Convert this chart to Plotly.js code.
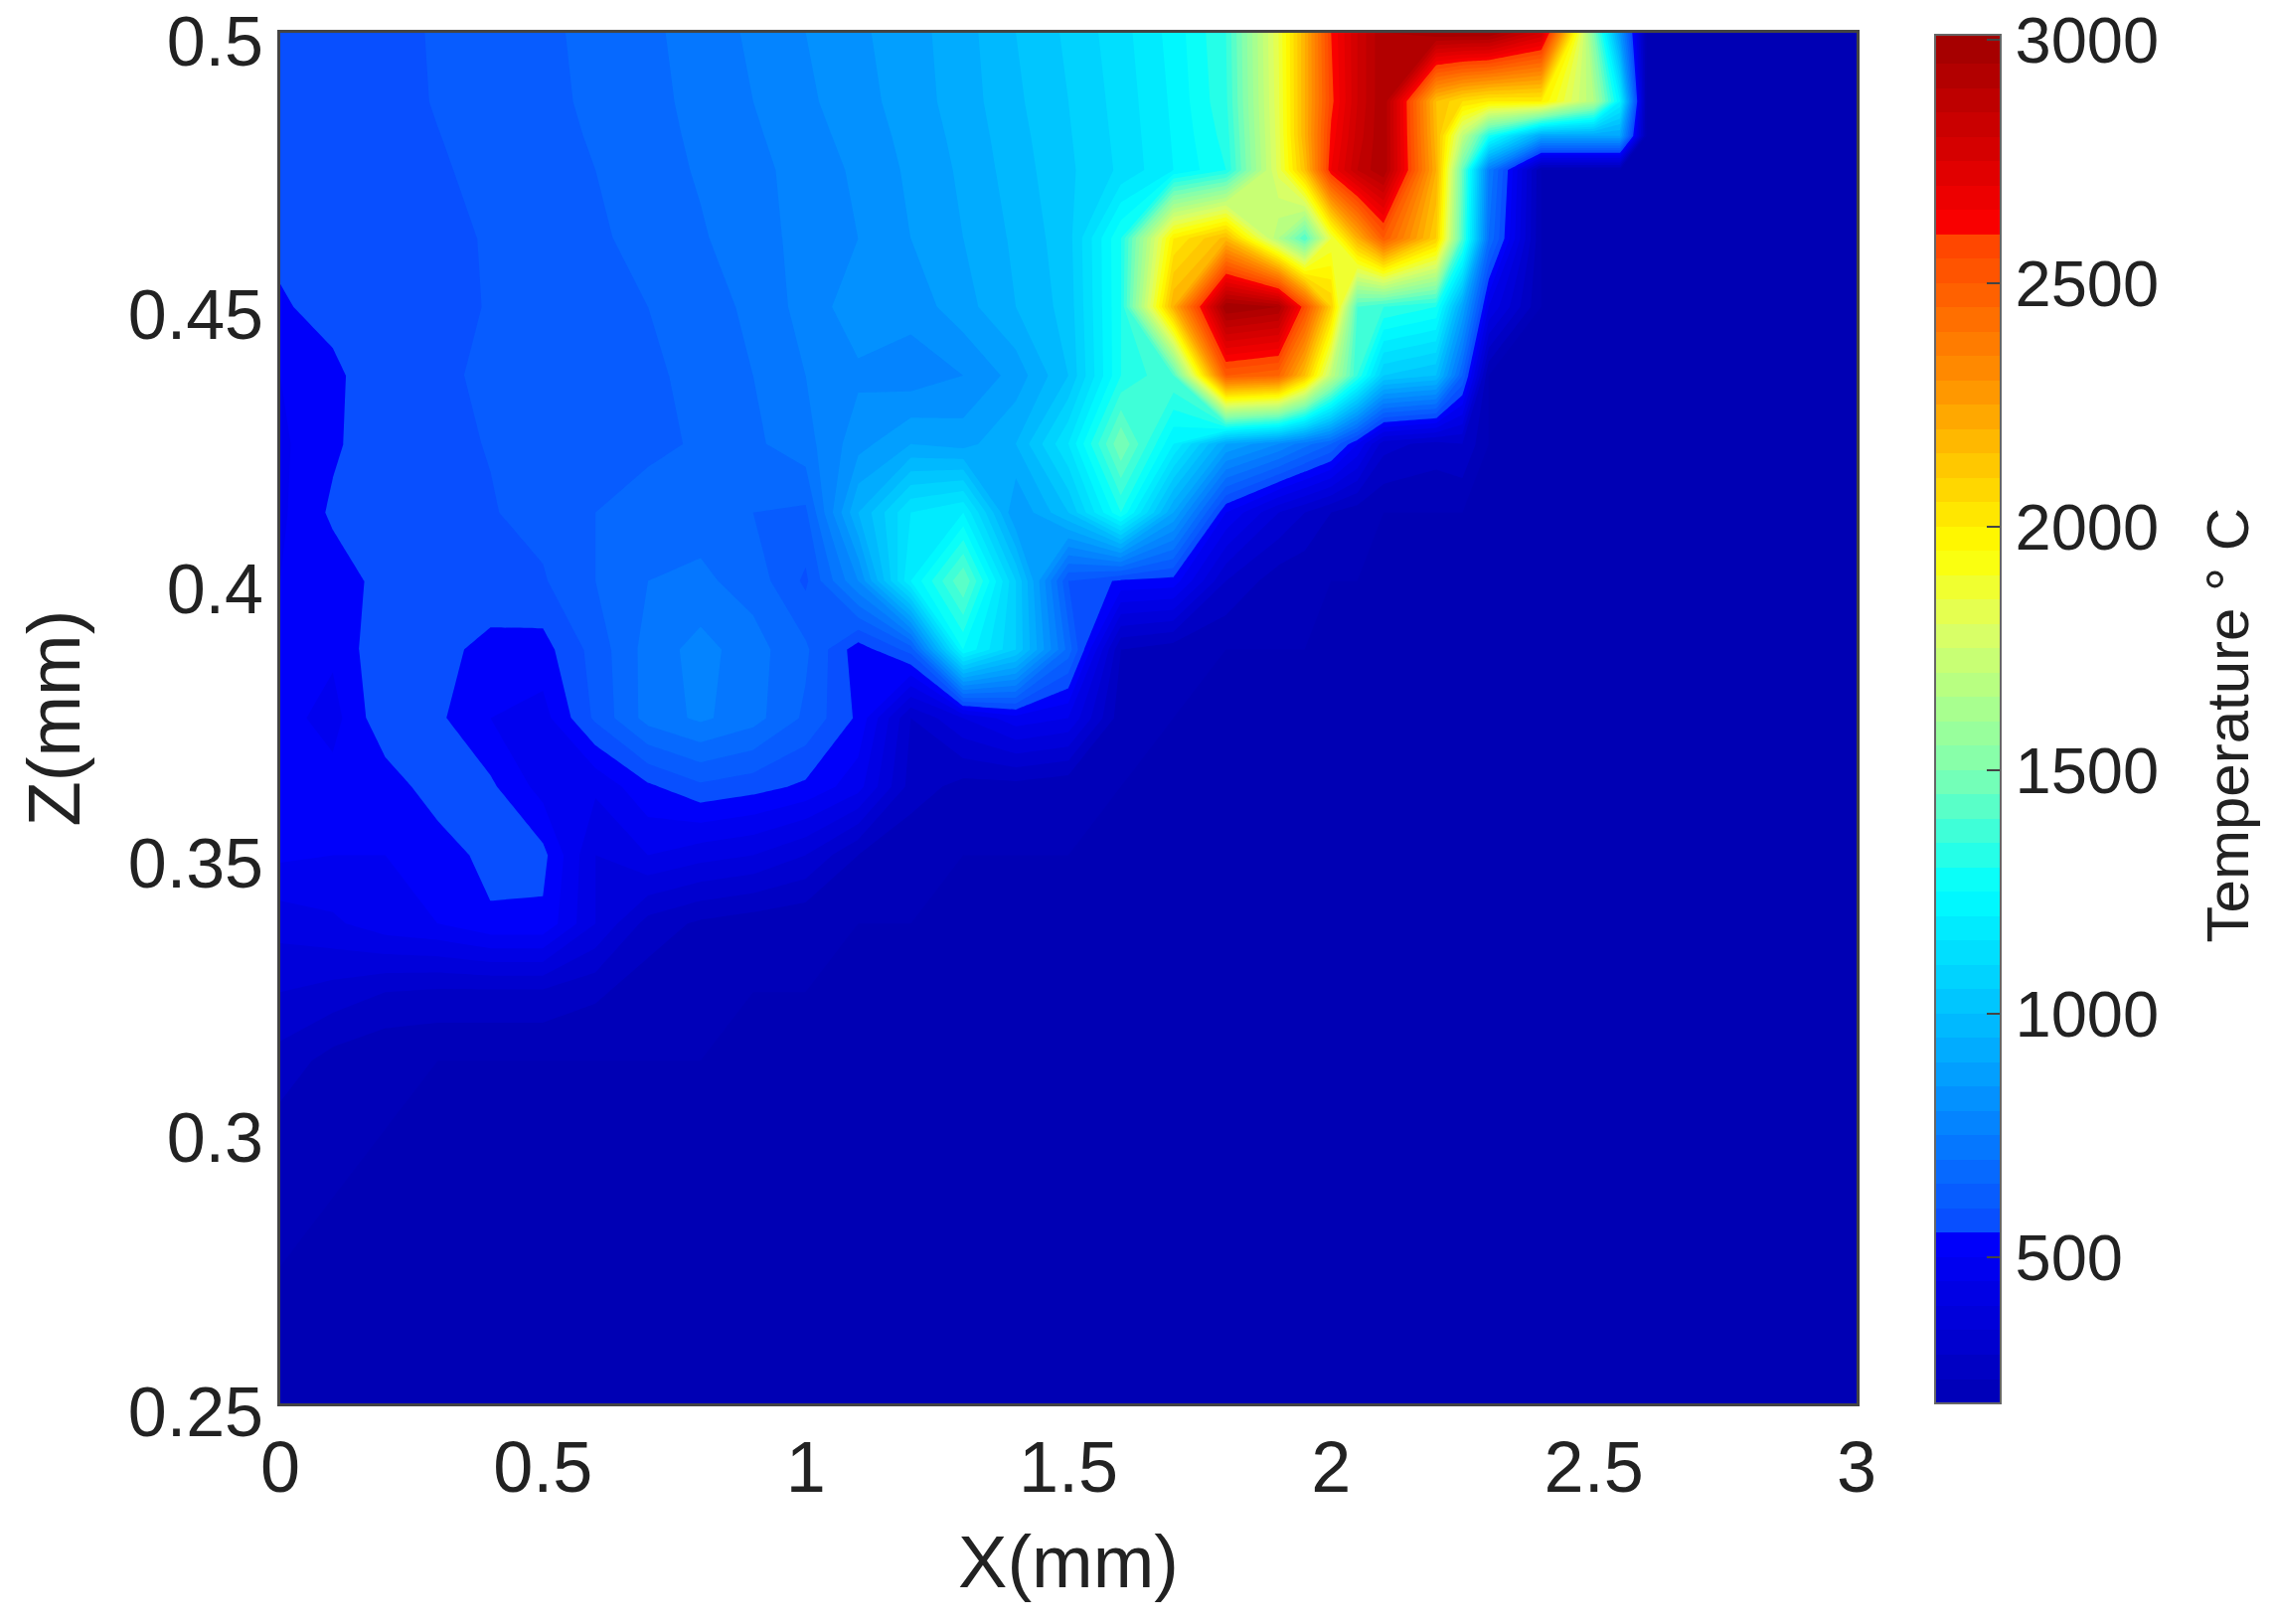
<!DOCTYPE html>
<html>
<head>
<meta charset="utf-8">
<script src="https://cdn.plot.ly/plotly-3.0.0.min.js"></script>
<style>html,body{margin:0;padding:0;background:#fff}#chart{width:2289px;height:1634px}</style>
</head>
<body>
<div id="chart"></div>
<script>
const xMm = [0,0.1,0.2,0.3,0.4,0.5,0.6,0.7,0.8,0.9,1,1.1,1.2,1.3,1.4,1.5,1.6,1.7,1.8,1.9, 1.95,2,2.05,2.1,2.2,2.25,2.3,2.4,2.5,2.55,2.6,2.7,2.8,2.9,3];
const zMm = [0.5,0.4875,0.4812,0.475,0.4625,0.45,0.4375,0.425,0.4125,0.4,0.3875,0.375,0.3625,0.35,0.3375,0.325,0.3125,0.3,0.2875,0.275,0.2625,0.25];

const t5000 = [570,575,585,605,620,635,670,690,720,760,800,840,880,930,1000,1060,1130,1220,1350,1850, 2200,2600,2800,2950,3000,3000,3000,2800,1500,850,200,200,200,200,200];
const t4875 = [568,572,585,603,618,630,665,685,715,750,790,830,875,925,990,1050,1120,1210,1340,1840, 2200,2580,2800,2950,2150,2050,2000,2000,1650,1200,200,200,200,200,200];
const t4812 = [566,571,585,599,615,627,657,682,710,742,780,820,867,917,982,1045,1115,1205,1320,1830, 2200,2615,2820,2950,2170,1700,1300,900,900,900,200,200,200,200,200];
const t4750 = [565,570,585,595,612,625,650,680,705,735,770,810,860,910,975,1040,1110,1200,1300,1820, 2150,2650,2850,2950,2200,1450,750,200,200,200,200,200,200,200,200];
const t4625 = [560,570,582,585,605,620,640,670,695,725,770,800,850,900,960,1030,1300,2000,2170,1650, 1400,1850,2200,2500,2100,1400,700,200,200,200,200,200,200,200,200];
const t4500 = [545,565,578,590,602,608,625,650,680,710,770,830,820,880,950,1020,1300,2200,3000,2950, 2550,2100,1400,1350,1300,900,450,200,200,200,200,200,200,200,200];
const t4375 = [500,540,580,595,605,610,620,640,665,700,750,790,770,800,870,1000,1300,1400,2500,2460, 2150,1700,1350,1050,1000,650,200,200,200,200,200,200,200,200,200];
const t4250 = [490,540,590,590,602,610,625,640,655,690,730,830,900,880,950,1150,1500,1200,900,800, 720,650,500,320,280,300,200,200,200,200,200,200,200,200,200];
const t4125 = [490,560,590,592,597,615,650,670,680,650,640,950,1150,1200,850,1000,1300,900,500,350, 300,250,220,200,200,200,200,200,200,200,200,200,200,200,200];
const t4000 = [500,520,570,585,592,595,650,700,710,680,590,800,1200,1450,1050,600,540,530,300,220, 210,200,200,200,200,200,200,200,200,200,200,200,200,200,200];
const t3875 = [510,510,590,570,530,530,620,720,770,720,660,520,620,1250,1050,680,250,220,200,200, 200,200,200,200,200,200,200,200,200,200,200,200,200,200,200];
const t3750 = [520,480,590,560,500,480,610,720,760,720,640,540,300,400,480,450,220,200,200,200, 200,200,200,200,200,200,200,200,200,200,200,200,200,200,200];
const t3625 = [520,520,520,580,560,480,460,540,590,570,540,470,280,230,230,210,200,200,200,200, 200,200,200,200,200,200,200,200,200,200,200,200,200,200,200];
const t3500 = [510,500,500,520,570,565,400,450,420,400,350,250,205,200,200,200,200,200,200,200, 200,200,200,200,200,200,200,200,200,200,200,200,200,200,200];
const t3375 = [420,440,480,500,540,540,400,280,240,220,205,200,200,200,200,200,200,200,200,200, 200,200,200,200,200,200,200,200,200,200,200,200,200,200,200];
const t3250 = [350,330,300,290,290,290,260,220,205,200,200,200,200,200,200,200,200,200,200,200, 200,200,200,200,200,200,200,200,200,200,200,200,200,200,200];
const t3125 = [280,230,205,200,200,200,200,200,200,200,200,200,200,200,200,200,200,200,200,200, 200,200,200,200,200,200,200,200,200,200,200,200,200,200,200];
const t3000 = [230,205,200,200,200,200,200,200,200,200,200,200,200,200,200,200,200,200,200,200, 200,200,200,200,200,200,200,200,200,200,200,200,200,200,200];
const t2875 = [205,200,200,200,200,200,200,200,200,200,200,200,200,200,200,200,200,200,200,200, 200,200,200,200,200,200,200,200,200,200,200,200,200,200,200];
const t2750 = [200,200,200,200,200,200,200,200,200,200,200,200,200,200,200,200,200,200,200,200, 200,200,200,200,200,200,200,200,200,200,200,200,200,200,200];
const t2625 = [200,200,200,200,200,200,200,200,200,200,200,200,200,200,200,200,200,200,200,200, 200,200,200,200,200,200,200,200,200,200,200,200,200,200,200];
const t2500 = [200,200,200,200,200,200,200,200,200,200,200,200,200,200,200,200,200,200,200,200, 200,200,200,200,200,200,200,200,200,200,200,200,200,200,200];
const temperature = [t5000,t4875,t4812,t4750,t4625,t4500,t4375,t4250,t4125,t4000,t3875,t3750,t3625,t3500,t3375,t3250,t3125,t3000,t2875,t2750,t2625,t2500];

const xTicks = [0,0.5,1,1.5,2,2.5,3];
const zTicks = [0.25,0.3,0.35,0.4,0.45,0.5];
const colorTicks = [500,1000,1500,2000,2500,3000];
const xTitle = 'X(mm)';
const zTitle = 'Z(mm)';
const colorTitle = 'Temperature ° C';

const jetSteps = [
  [0,'#0000b4'],[0.125,'#0000ff'],[0.125,'#0848ff'],[0.2857,'#00c0ff'],[0.3768,'#00ffff'],
  [0.4643,'#80ffb0'],[0.5714,'#e0ff60'],[0.625,'#ffff00'],[0.75,'#ff9000'],[0.857,'#ff4000'],
  [0.857,'#ff0000'],[1,'#a00000']
];
const font = 'Liberation Sans, Arial, sans-serif';

Plotly.newPlot('chart', [{
  type: 'contour',
  x: xMm,
  y: zMm.slice().reverse(),
  z: temperature.slice().reverse(),
  zauto: false, zmin: 200, zmax: 3010,
  autocontour: false,
  contours: {start: 200, end: 3000, size: 50, coloring: 'fill', showlines: false},
  line: {width: 0, smoothing: 0},
  colorscale: jetSteps,
  colorbar: {
    x: 1.0498, xanchor: 'left', xpad: 0, y: 0, yanchor: 'bottom', ypad: 0,
    len: 0.9985, lenmode: 'fraction', thickness: 66, thicknessmode: 'pixels',
    outlinecolor: '#666', outlinewidth: 2,
    tickmode: 'array', tickvals: colorTicks, ticks: 'inside', ticklen: 15, tickwidth: 2, tickcolor: '#444',
    ticklabeloverflow: 'allow',
    tickfont: {family: font, size: 65, color: '#222'}
  },
  hoverinfo: 'skip'
}], {
  width: 2289, height: 1634,
  margin: {l: 282, r: 421, t: 33, b: 222, pad: 0},
  paper_bgcolor: '#fff', plot_bgcolor: '#0000bb',
  showlegend: false,
  xaxis: {
    range: [0,3], tickmode: 'array', tickvals: xTicks, ticks: '', showgrid: false, zeroline: false,
    showline: true, mirror: true, linecolor: '#444', linewidth: 3, ticklabeloverflow: 'allow',
    tickfont: {family: font, size: 72, color: '#222'},
    title: {text: xTitle, font: {family: font, size: 74, color: '#222'}, standoff: 30}
  },
  yaxis: {
    range: [0.25,0.5], tickmode: 'array', tickvals: zTicks, ticks: '', showgrid: false, zeroline: false,
    showline: true, mirror: true, linecolor: '#444', linewidth: 3, ticklabeloverflow: 'allow',
    ticklabelshift: 8,
    tickfont: {family: font, size: 70, color: '#222'},
    title: {text: zTitle, font: {family: font, size: 74, color: '#222'}, standoff: 24}
  },
  annotations: [{
    text: colorTitle, xref: 'paper', yref: 'paper', x: 1.2352, y: 0.495,
    xanchor: 'center', yanchor: 'middle', textangle: -90, showarrow: false,
    font: {family: font, size: 60, color: '#222'}
  }]
}, {displayModeBar: false, staticPlot: true});
</script>
</body>
</html>
